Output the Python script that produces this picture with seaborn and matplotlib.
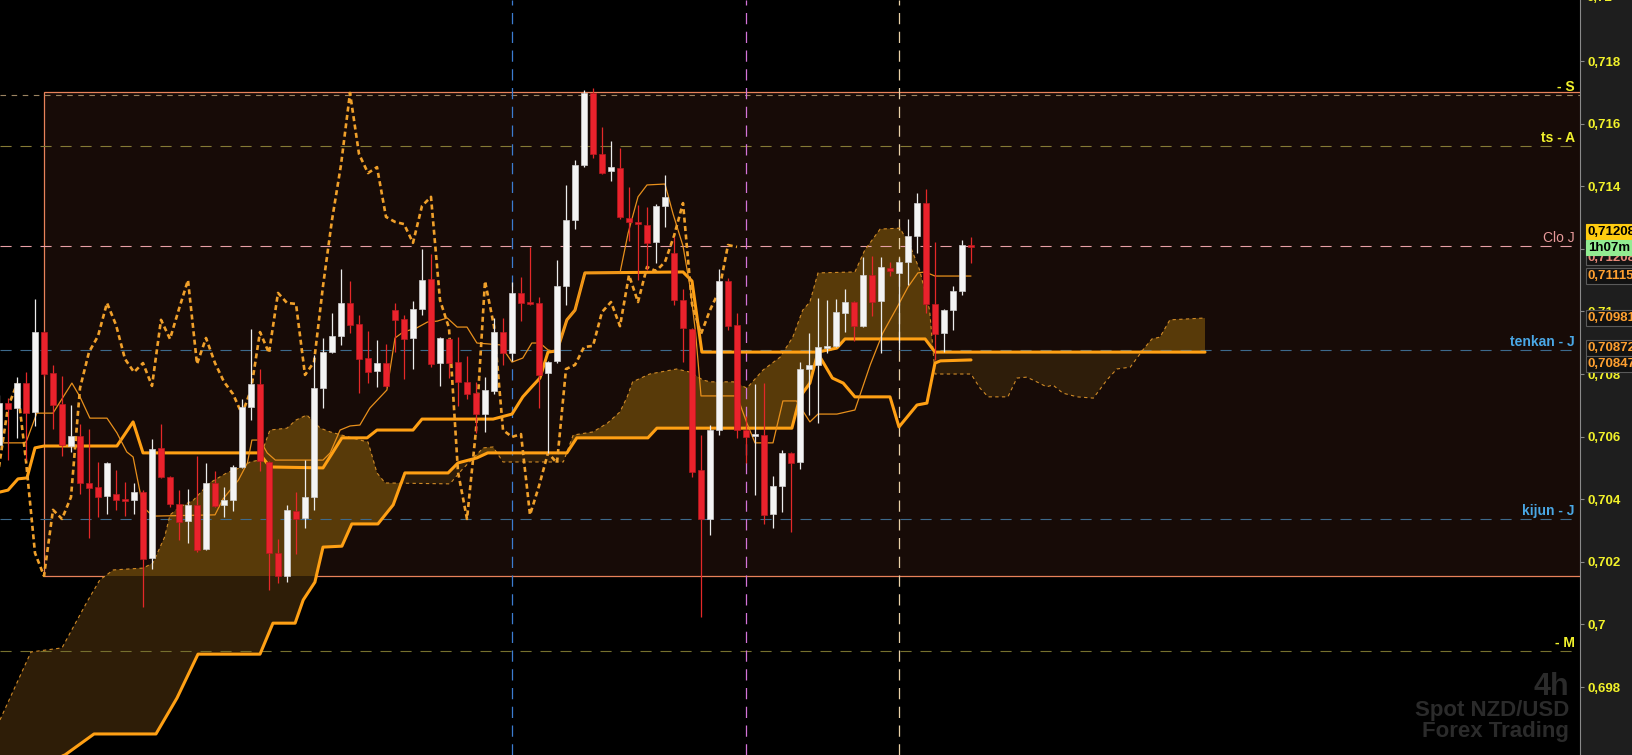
import numpy as np
import matplotlib
matplotlib.use("Agg")
import matplotlib.pyplot as plt
import matplotlib.transforms as mtransforms
from matplotlib.patches import Rectangle
from matplotlib.ticker import FuncFormatter
import seaborn as sns

# --- candles (4h NZD/USD) ---
opens = [0.70573, 0.70707, 0.70691, 0.70771, 0.70679, 0.70934, 0.70803, 0.70704, 0.70570, 0.70602,
         0.70452, 0.70439, 0.70410, 0.70417, 0.70401, 0.70397, 0.70423, 0.70212, 0.70564, 0.70471,
         0.70385, 0.70330, 0.70382, 0.70241, 0.70452, 0.70382, 0.70397, 0.70503, 0.70695, 0.70768,
         0.70519, 0.70228, 0.70155, 0.70362, 0.70340, 0.70407, 0.70755, 0.70870, 0.70921, 0.71027,
         0.70960, 0.70851, 0.70810, 0.70835, 0.71004, 0.70976, 0.70915, 0.71008, 0.71104, 0.70835,
         0.70912, 0.70838, 0.70775, 0.70739, 0.70672, 0.70746, 0.70934, 0.70867, 0.71059, 0.71030,
         0.71027, 0.70803, 0.70842, 0.71081, 0.71292, 0.71468, 0.71698, 0.71503, 0.71449, 0.71458,
         0.71298, 0.71286, 0.71276, 0.71222, 0.71337, 0.71187, 0.71036, 0.70944, 0.70493, 0.70337,
         0.70621, 0.71097, 0.70957, 0.70621, 0.70602, 0.70605, 0.70353, 0.70442, 0.70548, 0.70519,
         0.70816, 0.70829, 0.70883, 0.70890, 0.70995, 0.71030, 0.70953, 0.71116, 0.71033, 0.71139,
         0.71123, 0.71158, 0.71241, 0.71346, 0.71024, 0.70931, 0.71004, 0.71065, 0.71212]
highs = [0.70733, 0.70723, 0.70790, 0.70806, 0.71040, 0.70937, 0.70829, 0.70794, 0.70701, 0.70640,
         0.70624, 0.70519, 0.70519, 0.70493, 0.70455, 0.70452, 0.70429, 0.70592, 0.70640, 0.70474,
         0.70429, 0.70433, 0.70538, 0.70516, 0.70490, 0.70439, 0.70509, 0.70720, 0.70944, 0.70816,
         0.70522, 0.70273, 0.70382, 0.70423, 0.70525, 0.70861, 0.70915, 0.70995, 0.71136, 0.71097,
         0.70989, 0.70937, 0.70909, 0.70896, 0.71027, 0.70989, 0.71033, 0.71199, 0.71183, 0.70918,
         0.70915, 0.70918, 0.70858, 0.70775, 0.70790, 0.70979, 0.70979, 0.71094, 0.71110, 0.71206,
         0.71046, 0.70842, 0.71164, 0.71404, 0.71484, 0.71707, 0.71714, 0.71589, 0.71544, 0.71522,
         0.71397, 0.71340, 0.71334, 0.71343, 0.71436, 0.71238, 0.71072, 0.70947, 0.70605, 0.70637,
         0.71136, 0.71107, 0.70995, 0.70666, 0.70768, 0.70771, 0.70474, 0.70557, 0.70551, 0.70838,
         0.70931, 0.71043, 0.71036, 0.71040, 0.71072, 0.71033, 0.71174, 0.71177, 0.71174, 0.71158,
         0.71171, 0.71295, 0.71378, 0.71391, 0.71222, 0.71008, 0.71081, 0.71228, 0.71238]
lows = [0.70557, 0.70525, 0.70596, 0.70525, 0.70634, 0.70794, 0.70624, 0.70538, 0.70551, 0.70417,
        0.70276, 0.70343, 0.70353, 0.70366, 0.70346, 0.70353, 0.70056, 0.70177, 0.70468, 0.70375,
        0.70270, 0.70260, 0.70231, 0.70238, 0.70375, 0.70343, 0.70362, 0.70500, 0.70653, 0.70490,
        0.70110, 0.70132, 0.70135, 0.70225, 0.70308, 0.70366, 0.70691, 0.70867, 0.70893, 0.70931,
        0.70739, 0.70771, 0.70759, 0.70759, 0.70870, 0.70784, 0.70816, 0.70989, 0.70822, 0.70762,
        0.70787, 0.70698, 0.70720, 0.70612, 0.70615, 0.70736, 0.70829, 0.70842, 0.70969, 0.71020,
        0.70691, 0.70548, 0.70835, 0.71020, 0.71263, 0.71461, 0.71490, 0.71439, 0.71417, 0.71295,
        0.71225, 0.71100, 0.71132, 0.71155, 0.71270, 0.71020, 0.70838, 0.70471, 0.70024, 0.70286,
        0.70605, 0.70941, 0.70596, 0.70516, 0.70413, 0.70321, 0.70308, 0.70359, 0.70295, 0.70497,
        0.70669, 0.70643, 0.70867, 0.70886, 0.70934, 0.70905, 0.70950, 0.70985, 0.70867, 0.71113,
        0.70877, 0.71084, 0.71187, 0.70995, 0.70845, 0.70870, 0.70941, 0.71052, 0.71155]
closes = [0.70707, 0.70688, 0.70771, 0.70675, 0.70934, 0.70800, 0.70701, 0.70573, 0.70602, 0.70452,
          0.70436, 0.70407, 0.70516, 0.70397, 0.70394, 0.70423, 0.70209, 0.70560, 0.70471, 0.70385,
          0.70327, 0.70382, 0.70238, 0.70452, 0.70378, 0.70397, 0.70503, 0.70695, 0.70768, 0.70522,
          0.70228, 0.70155, 0.70366, 0.70337, 0.70407, 0.70755, 0.70870, 0.70921, 0.71027, 0.70957,
          0.70848, 0.70806, 0.70835, 0.70762, 0.70973, 0.70912, 0.71008, 0.71100, 0.70832, 0.70915,
          0.70835, 0.70775, 0.70736, 0.70672, 0.70749, 0.70934, 0.70867, 0.71059, 0.71027, 0.71024,
          0.70797, 0.70838, 0.71081, 0.71292, 0.71468, 0.71698, 0.71503, 0.71442, 0.71461, 0.71302,
          0.71286, 0.71279, 0.71219, 0.71337, 0.71366, 0.71036, 0.70947, 0.70487, 0.70337, 0.70621,
          0.71097, 0.70953, 0.70621, 0.70599, 0.70608, 0.70350, 0.70442, 0.70548, 0.70516, 0.70816,
          0.70829, 0.70886, 0.70890, 0.70998, 0.71030, 0.70953, 0.71116, 0.71030, 0.71142, 0.71129,
          0.71158, 0.71241, 0.71346, 0.71024, 0.70928, 0.71004, 0.71065, 0.71212, 0.71206]

# --- ichimoku lines, breakpoints (x in candle index) ---
tenkan_x = [0.11, 2.9, 3.1, 4.2, 6.0, 8.1, 9.0, 10.1, 12.0, 13.1, 14.2, 14.9, 16.0, 17.1, 24.0, 24.9,
            26.6, 27.6, 28.1, 29.0, 29.8, 30.7, 36.0, 36.8, 37.9, 39.0, 40.1, 41.2, 43.1, 44.0, 44.9,
            46.4, 47.6, 48.7, 49.8, 50.9, 52.0, 53.1, 55.7, 57.0, 58.2, 59.2, 60.1, 61.0, 62.0, 63.1,
            64.0, 65.1, 69.0, 69.9, 71.0, 72.0, 74.0, 74.9, 76.0, 76.8, 77.4, 78.0, 82.0, 83.1, 84.0,
            86.0, 87.1, 88.6, 90.1, 91.0, 93.1, 95.1, 96.8, 98.2, 99.8, 101.0, 102.1, 102.9, 104.0, 108.0]
tenkan_y = [0.70580, 0.70580, 0.70589, 0.70675, 0.70675, 0.70771, 0.70727, 0.70659, 0.70659, 0.70612,
            0.70551, 0.70535, 0.70375, 0.70346, 0.70350, 0.70401, 0.70461, 0.70516, 0.70589, 0.70589,
            0.70548, 0.70525, 0.70525, 0.70548, 0.70621, 0.70634, 0.70637, 0.70691, 0.70749, 0.70915,
            0.70934, 0.70947, 0.70966, 0.70969, 0.70979, 0.70950, 0.70950, 0.70899, 0.70893, 0.70838,
            0.70851, 0.70899, 0.70899, 0.70877, 0.70870, 0.70973, 0.71004, 0.71123, 0.71123, 0.71250,
            0.71366, 0.71404, 0.71407, 0.71311, 0.71209, 0.71075, 0.70931, 0.70730, 0.70730, 0.70643,
            0.70580, 0.70580, 0.70714, 0.70714, 0.70647, 0.70672, 0.70672, 0.70685, 0.70829, 0.70931,
            0.71014, 0.71078, 0.71123, 0.71126, 0.71113, 0.71113]
kijun_x = [0.11, 1.0, 2.11, 3.11, 4.0, 5.0, 13.1, 14.9, 16.0, 28.9, 30.1, 36.0, 38.1, 40.9, 42.0, 46.0,
           47.0, 54.9, 57.0, 58.2, 59.2, 60.1, 61.0, 62.0, 63.1, 64.0, 65.1, 76.0, 77.0, 78.1, 90.9,
           92.6, 93.8, 95.1, 99.0, 100.0, 102.0, 103.1, 104.0, 104.6, 108.0]
kijun_y = [0.70423, 0.70429, 0.70465, 0.70468, 0.70564, 0.70570, 0.70570, 0.70647, 0.70548, 0.70548,
           0.70503, 0.70500, 0.70596, 0.70596, 0.70621, 0.70621, 0.70656, 0.70656, 0.70672, 0.70727,
           0.70759, 0.70787, 0.70870, 0.70874, 0.70973, 0.71004, 0.71123, 0.71126, 0.71097, 0.70870,
           0.70870, 0.70787, 0.70771, 0.70727, 0.70727, 0.70631, 0.70701, 0.70707, 0.70835, 0.70842,
           0.70845]
span_a_x = [0.11, 3.56, 7.0, 9.78, 11.2, 12.7, 16.0, 17.1, 18.4, 19.0, 20.1, 21.6, 23.4, 25.3, 27.0,
            27.9, 28.9, 30.1, 32.0, 33.0, 34.2, 35.7, 36.8, 40.1, 41.0, 42.0, 42.9, 50.1, 51.4, 53.8,
            54.9, 56.0, 62.7, 63.8, 66.0, 67.6, 69.0, 69.8, 70.4, 72.3, 75.3, 76.8, 78.2, 79.0, 81.6,
            83.1, 84.9, 86.8, 88.2, 89.3, 90.1, 91.0, 95.1, 96.2, 97.9, 100.1, 101.2, 102.3, 103.4,
            103.8, 104.0, 108.0, 109.0, 109.9, 112.1, 113.1, 114.2, 115.3, 116.4, 117.1, 118.2, 119.8,
            121.6, 123.1, 124.2, 125.7, 127.1, 128.1, 129.0, 130.1, 134.0]
span_a_y = [0.69695, 0.69912, 0.69925, 0.70072, 0.70142, 0.70174, 0.70180, 0.70196, 0.70279, 0.70350,
            0.70375, 0.70397, 0.70452, 0.70484, 0.70503, 0.70519, 0.70525, 0.70621, 0.70627, 0.70653,
            0.70669, 0.70627, 0.70615, 0.70589, 0.70583, 0.70484, 0.70452, 0.70449, 0.70493, 0.70564,
            0.70567, 0.70519, 0.70519, 0.70605, 0.70615, 0.70643, 0.70679, 0.70727, 0.70775, 0.70800,
            0.70816, 0.70806, 0.70781, 0.70775, 0.70775, 0.70755, 0.70813, 0.70854, 0.70918, 0.71004,
            0.71030, 0.71123, 0.71126, 0.71196, 0.71263, 0.71266, 0.71212, 0.71132, 0.71004, 0.70870,
            0.70800, 0.70800, 0.70755, 0.70727, 0.70727, 0.70787, 0.70790, 0.70775, 0.70759, 0.70765,
            0.70739, 0.70727, 0.70723, 0.70781, 0.70816, 0.70822, 0.70877, 0.70912, 0.70918, 0.70973,
            0.70979]
span_b_x = [0.11, 7.33, 10.56, 17.44, 19.78, 22.11, 29.0, 30.44, 32.9, 33.8, 35.1, 36.0, 38.1, 39.2,
            42.1, 43.8, 45.1, 49.9, 51.0, 53.1, 54.3, 63.1, 64.2, 72.1, 73.1, 88.1, 89.0, 90.1, 91.0,
            93.1, 94.0, 102.9, 104.0, 134.0]
span_b_y = [0.69500, 0.69583, 0.69650, 0.69650, 0.69765, 0.69905, 0.69905, 0.70004, 0.70004, 0.70078,
            0.70135, 0.70247, 0.70250, 0.70321, 0.70321, 0.70382, 0.70484, 0.70484, 0.70516, 0.70532,
            0.70548, 0.70548, 0.70596, 0.70596, 0.70627, 0.70627, 0.70727, 0.70771, 0.70870, 0.70883,
            0.70912, 0.70912, 0.70870, 0.70870]
chikou_shift = 26

# --- annotations ---
level_names = ["- S", "ts - A", "Clo J", "tenkan - J", "kijun - J", "- M"]
level_values = [0.71691, 0.71528, 0.71208, 0.70877, 0.70337, 0.69915]
level_colors = ["#9c8462", "#857a36", "#e8a0a6", "#3d6a8c", "#3d6a8c", "#76702e"]
level_text_colors = ["#f2f22c", "#f2f22c", "#e89a9a", "#4aa8e6", "#4aa8e6", "#f2f22c"]
vline_idx = [57, 83, 100]
vline_colors = ["#3c7cd0", "#d474d8", "#ead2a8"]
box_left, box_low, box_high = 5.0, 0.70155, 0.71700
price_tags = [
    ("0,71208", 0.71171, "#e88878", "#141414", "#5a5a5a"),
    ("0,71208", 0.71254, "black", "#ffcc10", "#ffcc10"),
    ("1h07m", 0.71203, "black", "#92ec92", "#92ec92"),
    ("0,71115", 0.71113, "#ffa030", "#121212", "#5a5a5a"),
    ("0,70981", 0.70979, "#ffa030", "#121212", "#5a5a5a"),
    ("0,70872", 0.70883, "#ffa030", "#121212", "#5a5a5a"),
    ("0,70847", 0.70832, "#ffa030", "#121212", "#5a5a5a"),
]
y_low, y_high = 0.695828, 0.719949


def price_fmt(v, pos=None):
    return f"{v:.3f}".rstrip("0").rstrip(".").replace(".", ",")


sns.set_style("dark", {"axes.facecolor": "black", "figure.facecolor": "#1e1e1e"})
plt.rcParams["font.family"] = ["Liberation Sans", "DejaVu Sans"]

fig = plt.figure(figsize=(16.33, 7.55), dpi=100)
ax = fig.add_axes([0, 0, 1580 / 1633, 1])
ax.set_facecolor("black")

# range box
box = Rectangle((box_left, box_low), 400, box_high - box_low, facecolor="#170b07",
                edgecolor="#e8825a", linewidth=0.9, zorder=1)
ax.add_patch(box)

# cloud
grid = np.union1d(span_a_x, span_b_x)
a = np.interp(grid, span_a_x, span_a_y)
b = np.interp(grid, span_b_x, span_b_y)
ax.fill_between(grid, a, b, where=a >= b, interpolate=True, color="#2e1d07", lw=0, zorder=2)
bright = ax.fill_between(grid, a, b, where=a >= b, interpolate=True, color="#583a09", lw=0, zorder=2.1)
bright.set_clip_path(box)
ax.fill_between(grid, a, b, where=a < b, interpolate=True, color="#2e1d0a", lw=0, zorder=2)

# level lines and labels
lab_tr = mtransforms.blended_transform_factory(ax.transAxes, ax.transData)
for name, val, col, tcol in zip(level_names, level_values, level_colors, level_text_colors):
    dash = (0, (5, 5)) if name == "- S" else (0, (10, 8))
    ax.axhline(val, color=col, lw=0.8, linestyle=dash, zorder=3)
    weight = "normal" if name == "Clo J" else "bold"
    ax.annotate(name, xy=(0.9968, val), xycoords=lab_tr, xytext=(0, 3), textcoords="offset points",
                ha="right", va="baseline", color=tcol, fontsize=10, fontweight=weight, zorder=8)

for xv, col in zip(vline_idx, vline_colors):
    ax.axvline(xv, color=col, lw=0.9, linestyle=(0, (9, 6)), zorder=3.5)

# ichimoku lines
sns.lineplot(x=span_a_x, y=span_a_y, ax=ax, color="#d08a26", linewidth=0.8,
             linestyle=(0, (3, 3)), estimator=None, sort=False, zorder=4)
sns.lineplot(x=span_b_x, y=span_b_y, ax=ax, color="#ffa014", linewidth=2.2,
             estimator=None, sort=False, zorder=4)
sns.lineplot(x=kijun_x, y=kijun_y, ax=ax, color="#ffa014", linewidth=2.2,
             estimator=None, sort=False, zorder=4)
sns.lineplot(x=tenkan_x, y=tenkan_y, ax=ax, color="#e8901c", linewidth=0.9,
             estimator=None, sort=False, zorder=4)
chikou_close = closes[chikou_shift:]
sns.lineplot(x=np.arange(len(chikou_close)), y=chikou_close, ax=ax, color="#f0a02a",
             linewidth=1.9, linestyle=(0, (1.9, 1.3)), estimator=None, sort=False, zorder=4.2)

# candles
o = np.array(opens)
h = np.array(highs)
l = np.array(lows)
c = np.array(closes)
idx = np.arange(len(o))
bull = c >= o
lo = np.minimum(o, c)
ht = np.maximum(np.abs(c - o), 0.00005)
ax.vlines(idx[bull], l[bull], h[bull], color="#ececec", lw=0.9, zorder=5)
ax.vlines(idx[~bull], l[~bull], h[~bull], color="#e42828", lw=0.9, zorder=5)
ax.bar(idx[bull], ht[bull], bottom=lo[bull], width=0.66, color="#f4f4f4",
       edgecolor="#cfcfcf", linewidth=0.5, zorder=6)
ax.bar(idx[~bull], ht[~bull], bottom=lo[~bull], width=0.66, color="#ea222c",
       edgecolor="#b81a20", linewidth=0.5, zorder=6)

# axes
ax.set_xlim(1 / 9, 1581 / 9)
ax.set_ylim(y_low, y_high)
ax.set_xlabel("")
ax.set_ylabel("")
ax.set_xticks([])
ax.set_yticks(np.arange(0.698, 0.7195, 0.002))
ax.yaxis.tick_right()
ax.yaxis.set_major_formatter(FuncFormatter(price_fmt))
ax.tick_params(axis="y", right=True, left=False, length=3, width=0.8, color="#8a8a8a",
               labelcolor="#f2f22a", labelsize=9.5, pad=2.5)
plt.setp(ax.get_yticklabels(), fontweight="bold")
for side in ["left", "top", "bottom"]:
    ax.spines[side].set_visible(False)
ax.spines["right"].set_color("#8a8a8a")
ax.spines["right"].set_linewidth(0.8)
ax.grid(False)

# top tick label sits just above the visible range
ax.text(1587 / 1580, 0.720, price_fmt(0.720), transform=lab_tr, ha="left", va="center",
        color="#f2f22a", fontsize=9.5, fontweight="bold", clip_on=False)

# price tags on the scale
for text, yv, fg, bg, ec in price_tags:
    ax.text(1588 / 1580, yv, text, transform=lab_tr, ha="left", va="center", color=fg,
            fontsize=9.5, fontweight="bold", clip_on=False, zorder=20,
            bbox=dict(boxstyle="square,pad=0.12", facecolor=bg, edgecolor=ec, linewidth=0.8))

# watermark
wm = "#2b2b2b"
ax.text(0.993, 0.0795, "4h", transform=ax.transAxes, ha="right", va="baseline",
        color=wm, fontsize=22, fontweight="bold", zorder=0.5)
ax.text(0.993, 0.052, "Spot NZD/USD", transform=ax.transAxes, ha="right", va="baseline",
        color=wm, fontsize=16, fontweight="bold", zorder=0.5)
ax.text(0.993, 0.0235, "Forex Trading", transform=ax.transAxes, ha="right", va="baseline",
        color=wm, fontsize=16, fontweight="bold", zorder=0.5)

fig.savefig("out.png", dpi=100, facecolor=fig.get_facecolor())
